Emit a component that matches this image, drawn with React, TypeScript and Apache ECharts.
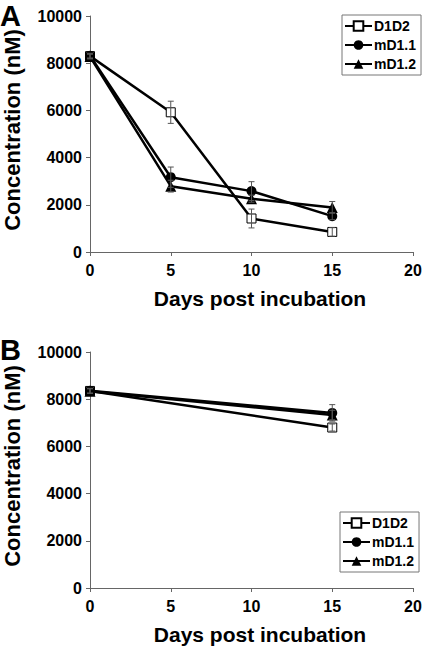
import React, { useEffect, useRef } from "react";
import * as echarts from "echarts";

const daysA = [0, 5, 10, 15];
const aD1D2 = [8300, 5920, 1420, 850];
const aMD11 = [8320, 3170, 2580, 1520];
const aMD12 = [8280, 2790, 2260, 1890];
const errAD1D2 = [100, 470, 400, 180];
const errAMD11 = [100, 430, 400, 150];
const errAMD12 = [100, 250, 150, 250];

const daysB = [0, 15];
const bD1D2 = [8350, 6800];
const bMD11 = [8360, 7420];
const bMD12 = [8340, 7330];
const errBD1D2 = [100, 150];
const errBMD11 = [100, 350];
const errBMD12 = [100, 200];

const seriesNames = ["D1D2", "mD1.1", "mD1.2"];
const xTicks = { min: 0, max: 20, interval: 5 };
const yTicks = { min: 0, max: 10000, interval: 2000 };

const FONT = "'Liberation Sans', Arial, sans-serif";

const symbols = [
  { symbol: "rect", size: 9, color: "#ffffff", border: "#000", bw: 1 },
  { symbol: "circle", size: 10, color: "#000", border: "#000", bw: 0 },
  { symbol: "triangle", size: 11, color: "#000", border: "#000", bw: 0 },
];

function pairs(xs: number[], ys: number[]) {
  return xs.map((x, i) => [x, ys[i]]);
}
function errs(xs: number[], ys: number[], es: number[]) {
  return xs.map((x, i) => [x, ys[i] - es[i], ys[i] + es[i]]);
}

export default function App() {
  const ref = useRef<HTMLDivElement>(null);
  useEffect(() => {
    if (!ref.current) return;
    const chart = echarts.init(ref.current, undefined, { renderer: "svg" });

    const grids = [
      { left: 90, top: 16, width: 323, height: 236, containLabel: false, outerBoundsMode: "none" },
      { left: 90, top: 352, width: 323, height: 236, containLabel: false, outerBoundsMode: "none" },
    ];
    const mkX = (gi: number) => ({
      type: "value",
      gridIndex: gi,
      ...xTicks,
      name: "Days post incubation",
      nameLocation: "middle",
      nameGap: 36,
      nameTextStyle: {
        fontFamily: FONT,
        fontWeight: "bold",
        fontSize: 21,
        color: "#000",
        padding: [0, 0, 0, 17],
      },
      axisLine: { lineStyle: { color: "#666", width: 1 } },
      axisTick: { show: true, inside: false, length: 4, lineStyle: { color: "#666" } },
      axisLabel: {
        fontFamily: FONT,
        fontWeight: "bold",
        fontSize: 16,
        color: "#000",
        margin: 10,
        formatter: (v: number) => String(v),
      },
      splitLine: { show: false },
    });
    const mkY = (gi: number) => ({
      type: "value",
      gridIndex: gi,
      ...yTicks,
      name: "Concentration (nM)",
      nameLocation: "middle",
      nameGap: 67,
      nameTextStyle: {
        fontFamily: FONT,
        fontWeight: "bold",
        fontSize: 22,
        color: "#000",
        padding: [0, 0, 0, 8],
      },
      axisLine: { show: true, lineStyle: { color: "#666", width: 1 } },
      axisTick: { show: true, inside: false, length: 4, lineStyle: { color: "#666" } },
      axisLabel: {
        fontFamily: FONT,
        fontWeight: "bold",
        fontSize: 16,
        color: "#000",
        margin: 8,
        formatter: (v: number) => String(v),
      },
      splitLine: { show: false },
    });

    const lineSeries = (gi: number, xs: number[], vals: number[][]) =>
      vals.map((v, i) => ({
        type: "line",
        name: seriesNames[i],
        xAxisIndex: gi,
        yAxisIndex: gi,
        data: pairs(xs, v),
        symbol: symbols[i].symbol,
        symbolSize: symbols[i].size,
        showSymbol: true,
        clip: false,
        lineStyle: { color: "#000", width: 2.5 },
        itemStyle: {
          color: symbols[i].color,
          borderColor: symbols[i].border,
          borderWidth: symbols[i].bw,
        },
        z: 3,
      }));

    const errSeries = (gi: number, data: number[][]) => ({
      type: "custom",
      xAxisIndex: gi,
      yAxisIndex: gi,
      data,
      z: 4,
      silent: true,
      renderItem: (params: any, api: any) => {
        const x = api.value(0);
        const lo = api.value(1);
        const hi = api.value(2);
        const p1 = api.coord([x, hi]);
        const p2 = api.coord([x, lo]);
        const w = 3;
        const st = { stroke: "#555", lineWidth: 1 };
        return {
          type: "group",
          children: [
            { type: "line", shape: { x1: p1[0], y1: p1[1], x2: p2[0], y2: p2[1] }, style: st },
            { type: "line", shape: { x1: p1[0] - w, y1: p1[1], x2: p1[0] + w, y2: p1[1] }, style: st },
            { type: "line", shape: { x1: p2[0] - w, y1: p2[1], x2: p2[0] + w, y2: p2[1] }, style: st },
          ],
        };
      },
    });

    const legendBase = {
      orient: "vertical",
      data: seriesNames,
      itemWidth: 27,
      itemHeight: 12,
      itemGap: 5,
      padding: [4, 5, 4, 2],
      borderColor: "#777",
      borderWidth: 1,
      selectedMode: false,
      textStyle: { fontFamily: FONT, fontWeight: "bold", fontSize: 14, color: "#000", padding: [0, 0, 0, -3] },
    };

    chart.setOption({
      animation: false,
      backgroundColor: "#fff",
      grid: grids,
      xAxis: [mkX(0), mkX(1)],
      yAxis: [mkY(0), mkY(1)],
      legend: [
        { ...legendBase, left: 342, top: 15 },
        { ...legendBase, left: 340, top: 512 },
      ],
      graphic: [
        { type: "text", left: 0, top: 1, style: { text: "A", font: `bold 29px ${FONT}`, fill: "#000" } },
        { type: "text", left: 0, top: 335, style: { text: "B", font: `bold 29px ${FONT}`, fill: "#000" } },
      ],
      series: [
        ...lineSeries(0, daysA, [aD1D2, aMD11, aMD12]),
        errSeries(0, [
          ...errs(daysA, aD1D2, errAD1D2),
          ...errs(daysA, aMD11, errAMD11),
          ...errs(daysA, aMD12, errAMD12),
        ]),
        ...lineSeries(1, daysB, [bD1D2, bMD11, bMD12]),
        errSeries(1, [
          ...errs(daysB, bD1D2, errBD1D2),
          ...errs(daysB, bMD11, errBMD11),
          ...errs(daysB, bMD12, errBMD12),
        ]),
      ],
    });
    return () => chart.dispose();
  }, []);
  return (
    <div
      ref={ref}
      style={{ position: "fixed", left: 0, top: 0, width: 425, height: 646, background: "#fff" }}
    />
  );
}
